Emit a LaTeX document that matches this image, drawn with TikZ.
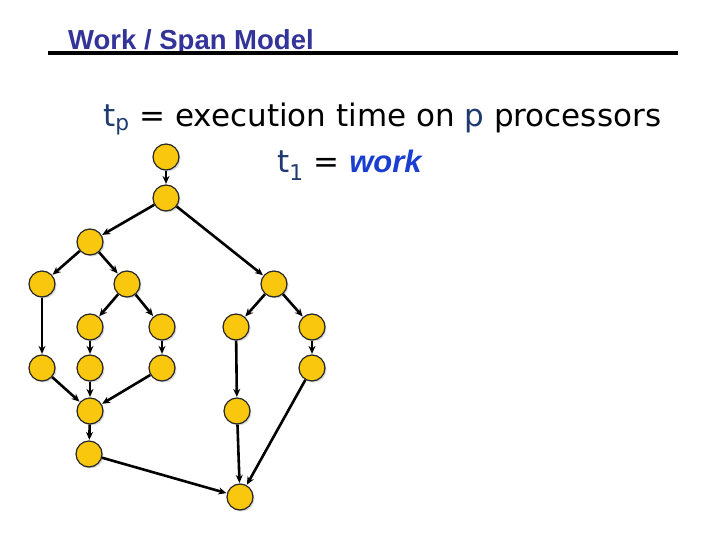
\documentclass[tikz,border=0pt]{standalone}
\usepackage{fontspec}
\setmainfont{DejaVu Sans}
\newfontfamily\arialfont{Liberation Sans}
\usetikzlibrary{arrows.meta,shadows}
\definecolor{titleblue}{HTML}{333399}
\definecolor{navy}{HTML}{1F3A6E}
\definecolor{workblue}{HTML}{1A3FD0}
\definecolor{gold}{HTML}{F9C80E}

\begin{document}
\begin{tikzpicture}[
    x=1pt, y=-1pt, >={Stealth[length=8pt, width=7pt]},
    task/.style={circle, draw=black!85, line width=1.2pt, fill=gold,
                 minimum size=26pt, inner sep=0pt,
                 drop shadow={opacity=0.3, shadow xshift=1.5pt, shadow yshift=-1.5pt}},
    arr/.style={->, line width=2.6pt, shorten >=0.5pt}]
  \useasboundingbox (0,0) rectangle (720,540);
  %% Title
  \node[anchor=base west, inner sep=0pt, text=titleblue,
        font=\arialfont\bfseries\fontsize{27.5}{32}\selectfont] (title) at (68,50) {Work / Span Model};
  \draw[line width=4pt] (48,53) -- (678,53);
  %% Definitions
  \node[anchor=base west, inner sep=0pt, font=\fontsize{31}{36}\selectfont] (tp) at (103,127)
    {\textcolor{navy}{t\textsubscript{p}} = execution time on \textcolor{navy}{p} processors};
  \node[anchor=base west, inner sep=0pt, font=\fontsize{31}{36}\selectfont] (t1) at (277,173)
    {\textcolor{navy}{t\textsubscript{1}} = \textcolor{workblue}{\arialfont\bfseries\itshape work}};
  %% Tasks
  \node[task] (a)  at (166,157) {};
  \node[task] (b)  at (166,198) {};
  \node[task] (c)  at (90,242)  {};
  \node[task] (d)  at (42,284)  {};
  \node[task] (e)  at (127,284) {};
  \node[task] (f)  at (274,284) {};
  \node[task] (g)  at (90,327)  {};
  \node[task] (h)  at (162,327) {};
  \node[task] (i)  at (236,327) {};
  \node[task] (j)  at (312,327) {};
  \node[task] (k)  at (42,368)  {};
  \node[task] (l)  at (90,368)  {};
  \node[task] (m)  at (162,368) {};
  \node[task] (n)  at (312,368) {};
  \node[task] (o)  at (90,411)  {};
  \node[task] (p)  at (237,411) {};
  \node[task] (q)  at (89,454)  {};
  \node[task] (r)  at (240,497) {};
  %% Dependencies
  \foreach \s/\t in {a/b, b/c, b/f, c/d, c/e, d/k, e/g, e/h, g/l, h/m,
                     k/o, l/o, m/o, o/q, f/i, f/j, i/p, j/n,
                     n/r, p/r, q/r}
    \draw[arr] (\s) -- (\t);
\end{tikzpicture}
\end{document}
